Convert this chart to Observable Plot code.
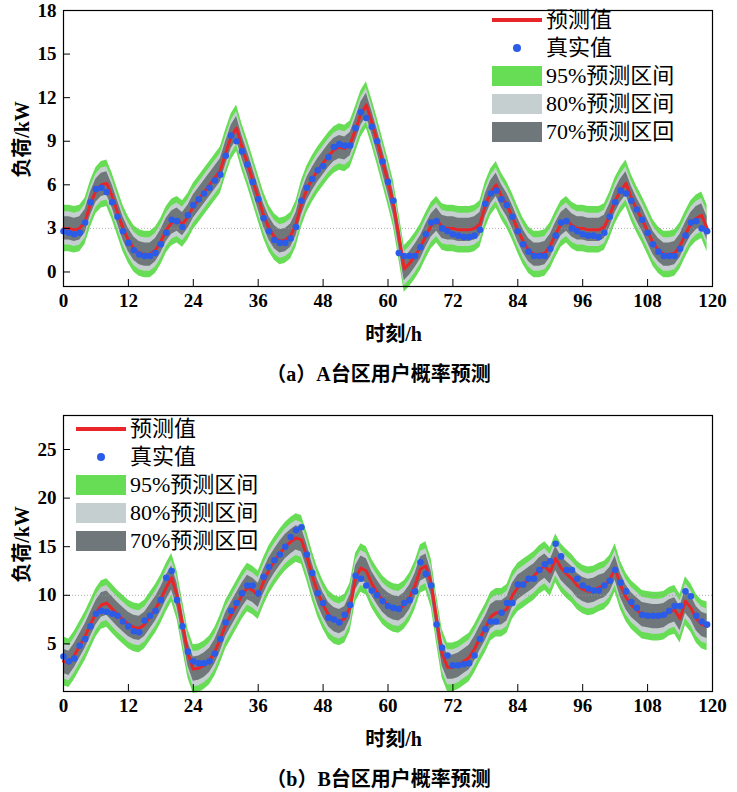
<!DOCTYPE html>
<html><head><meta charset="utf-8">
<script src="https://cdn.jsdelivr.net/npm/d3@7"></script>
<script src="https://cdn.jsdelivr.net/npm/@observablehq/plot@0.6"></script>
<style>
body{margin:0;background:#fff;font-family:"Liberation Serif","Noto Sans CJK SC",serif;}
.panel{position:absolute;left:0;width:737px;}
.leg{position:absolute;font-size:22px;line-height:28px;color:#000;}
.leg div{display:flex;align-items:center;height:28px;}
.sw{display:inline-block;width:50px;height:20px;margin-right:4px;}
.ylab{position:absolute;font-size:20px;font-weight:bold;transform:rotate(-90deg);transform-origin:center;white-space:nowrap;}
.xlab{position:absolute;font-size:20px;font-weight:bold;width:737px;text-align:center;left:25px;}
.cap{position:absolute;font-size:20px;font-weight:bold;width:737px;text-align:center;left:10px;}
</style></head><body>
<div id="A" class="panel" style="top:0"></div>
<div id="B" class="panel" style="top:405px"></div>
<script>
const hours = d3.range(0,120);
const actualA = [2.8,2.7,2.6,2.7,3.4,4.8,5.7,5.8,5.5,4.8,3.8,2.8,2.0,1.5,1.2,1.1,1.1,1.3,1.9,2.7,3.6,3.5,3.1,3.9,4.6,5.0,5.4,5.8,6.3,6.7,8.0,9.4,9.0,8.3,7.4,6.2,5.0,3.7,2.8,2.2,2.0,2.0,2.3,3.1,4.9,5.8,6.4,7.0,7.3,7.9,8.6,8.8,8.7,8.7,9.9,11.0,10.6,10.0,9.0,7.6,6.2,4.9,1.3,1.1,1.1,1.1,1.7,2.6,3.4,3.5,3.0,2.8,2.6,2.5,2.4,2.4,2.5,2.9,4.7,5.4,5.6,5.0,4.6,3.8,2.8,1.9,1.4,1.1,1.1,1.1,1.6,2.5,3.4,3.5,3.0,2.8,2.6,2.5,2.5,2.4,2.7,3.8,4.8,5.6,5.4,4.9,4.3,3.6,2.7,1.9,1.4,1.1,1.1,1.1,1.6,2.5,3.4,3.5,3.0,2.8];
const predA = [3.0,3.0,2.9,3.0,3.5,4.7,5.6,6.0,6.1,5.2,4.1,3.0,2.2,1.6,1.3,1.2,1.2,1.5,2.1,2.9,3.4,3.6,3.3,3.8,4.5,5.0,5.5,6.0,6.5,7.0,8.2,9.3,9.9,8.6,7.5,6.3,5.1,3.9,3.0,2.4,2.1,2.2,2.5,3.3,4.7,5.7,6.4,7.0,7.5,8.0,8.4,8.6,8.5,8.8,9.8,10.9,11.5,10.3,9.0,7.6,6.2,4.7,2.5,0.2,0.6,1.1,1.7,2.5,3.2,3.6,3.1,3.0,3.0,2.9,2.9,2.9,3.0,3.3,4.6,5.5,6.0,5.2,4.6,3.8,2.9,2.1,1.5,1.2,1.2,1.3,1.8,2.6,3.3,3.6,3.2,3.0,3.0,2.9,2.9,2.9,3.1,3.9,4.9,5.6,6.1,5.1,4.3,3.6,2.8,2.0,1.5,1.2,1.2,1.3,1.8,2.6,3.3,3.7,3.9,3.0];
const halfA = {w95:1.6, w80:1.15, w70:0.8};
const actualB = [3.7,3.2,3.5,4.8,5.5,6.8,8.1,8.4,8.3,8.1,7.9,7.3,6.8,6.3,6.2,7.4,7.9,8.4,9.5,11.8,12.5,9.5,6.8,4.2,3.2,3.0,3.0,3.2,4.0,5.5,7.2,8.4,9.2,10.2,11.0,11.0,10.2,11.9,12.9,13.6,14.2,15.0,16.0,16.7,17.0,14.2,12.3,10.2,9.2,7.7,7.5,7.2,8.0,9.0,12.0,11.7,11.0,10.5,10.0,9.4,8.9,8.7,8.6,9.2,9.5,10.4,13.4,12.2,11.0,7.0,4.6,3.8,2.8,2.8,2.9,3.0,3.8,5.5,6.5,7.3,7.3,8.2,9.2,9.2,11.1,11.1,11.7,11.7,12.6,13.2,13.5,15.3,14.0,12.6,12.6,11.7,11.0,10.7,10.5,10.5,11.0,11.5,12.6,11.3,10.4,9.3,8.7,8.0,7.9,7.9,7.9,8.0,8.4,8.9,8.9,10.4,9.9,7.9,7.3,7.0];
const predB = [3.2,3.0,3.8,4.8,5.8,7.0,8.2,9.0,9.2,8.6,8.0,7.5,7.0,6.7,6.6,7.0,7.8,8.6,9.6,10.8,11.8,10.0,7.0,4.0,2.4,2.5,2.8,3.3,4.2,5.5,7.0,8.0,9.0,10.0,10.8,10.5,10.0,11.4,12.6,13.5,14.3,15.0,15.5,15.9,15.7,14.0,12.0,10.3,9.0,8.0,7.5,7.3,7.6,8.8,11.8,12.8,12.5,11.2,10.3,9.5,9.0,8.7,8.6,9.0,9.8,11.0,12.7,13.0,11.2,7.5,4.0,2.6,2.6,2.8,3.2,3.6,4.5,5.6,6.6,7.8,8.2,8.2,8.6,10.0,10.8,11.2,11.6,12.0,12.6,13.0,12.4,13.8,12.8,12.2,11.7,11.0,10.6,10.4,10.5,10.8,11.0,11.6,12.8,11.0,9.8,9.0,8.5,8.0,7.9,7.8,7.8,7.9,8.3,8.5,7.6,9.4,8.7,7.6,7.0,6.8];
const halfB = {w95:2.5, w80:1.8, w70:1.25};
const xTicks = d3.range(0,121,12);
const yTicksA = [0,3,6,9,12,15,18];
const yTicksB = [5,10,15,20,25];
const legendLabels = ["预测值","真实值","95%预测区间","80%预测区间","70%预测区回"];
const colors = {red:"#e8262a", blue:"#2a5ce8", g95:"#66dd55", g80:"#c6cfcf", g70:"#70777b"};

function panel(el, act, pred, half, ydom, yticks, grid, cap, legPos){
  const data = hours.map((h,i)=>({h, a:act[i], p:pred[i]}));
  const band = (w,fill)=>Plot.areaY(data,{x:"h",y1:d=>d.p-w,y2:d=>d.p+w,fill,curve:"linear"});
  const chart = Plot.plot({
    width:737, height:318, marginLeft:63, marginRight:25, marginTop:10, marginBottom:32,
    style:{fontFamily:"Liberation Serif",fontSize:"19px",fontWeight:"bold",color:"#000",background:"#fff"},
    x:{domain:[0,120]}, y:{domain:ydom},
    marks:[
      band(half.w95,colors.g95), band(half.w80,colors.g80), band(half.w70,colors.g70),
      Plot.ruleY(grid,{stroke:"#999",strokeDasharray:"1,2",strokeWidth:0.8}),
      Plot.line(data,{x:"h",y:"p",stroke:colors.red,strokeWidth:3}),
      Plot.dot(data,{x:"h",y:"a",r:3.3,fill:colors.blue}),
      Plot.axisX({ticks:xTicks,tickSize:-7,tickPadding:14,label:null,fontSize:19}),
      Plot.axisY({ticks:yticks,tickSize:-7,tickPadding:14,label:null,fontSize:19}),
      Plot.frame({stroke:"#000",strokeWidth:1.2})
    ]
  });
  el.appendChild(chart);
  const yl=document.createElement("div"); yl.className="ylab"; yl.textContent="负荷/kW";
  yl.style.left="-18px"; yl.style.top="125px"; el.appendChild(yl);
  const xl=document.createElement("div"); xl.className="xlab"; xl.textContent="时刻/h"; xl.style.top="318px"; el.appendChild(xl);
  const c=document.createElement("div"); c.className="cap"; c.textContent=cap; c.style.top="358px"; el.appendChild(c);
  const lg=document.createElement("div"); lg.className="leg"; lg.style.left=legPos[0]+"px"; lg.style.top=legPos[1]+"px";
  const sws=[`<span class="sw" style="height:4px;background:${colors.red}"></span>`,
    `<span class="sw" style="background:none;display:inline-flex;justify-content:center;align-items:center"><span style="width:8px;height:8px;border-radius:50%;background:${colors.blue}"></span></span>`,
    `<span class="sw" style="background:${colors.g95}"></span>`,
    `<span class="sw" style="background:${colors.g80}"></span>`,
    `<span class="sw" style="background:${colors.g70}"></span>`];
  lg.innerHTML = legendLabels.map((t,i)=>`<div>${sws[i]}<span>${t}</span></div>`).join("");
  el.appendChild(lg);
}
panel(document.getElementById("A"), actualA, predA, halfA, [-1,18], yTicksA, [3], "（a）A台区用户概率预测", [492,6]);
panel(document.getElementById("B"), actualB, predB, halfB, [0.1,28.5], yTicksB, [10], "（b）B台区用户概率预测", [76,10]);
</script>
</body></html>
